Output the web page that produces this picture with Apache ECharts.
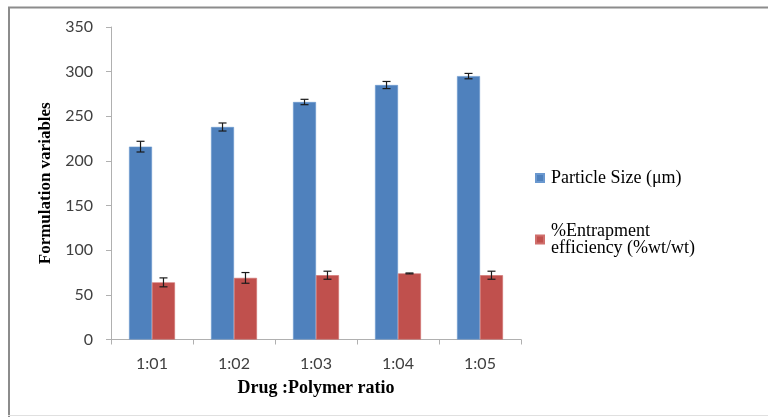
<!DOCTYPE html>
<html>
<head>
<meta charset="utf-8">
<script src="https://cdn.jsdelivr.net/npm/echarts@6/dist/echarts.min.js"></script>
<style>
html,body{margin:0;padding:0;background:#fff;}
#chart{width:768px;height:417px;}
</style>
</head>
<body>
<div id="chart"></div>
<script>
const categories = ['1:01', '1:02', '1:03', '1:04', '1:05'];
const particleSize = [216, 238, 266, 285, 295];
const particleSizeErr = [6, 4.5, 3, 4, 3];
const entrapment = [64, 69, 72, 74, 72];
const entrapmentErr = [5, 6, 4.5, 0.5, 4.5];
const yTicks = { min: 0, max: 350, interval: 50 };

const seriesNames = ['Particle Size (μm)', '%Entrapment efficiency (%wt/wt)'];
const colors = ['#4F81BD', '#C0504D'];
const catGap = 0.44;

function errSeries(vals, errs, idx) {
  return {
    type: 'custom',
    name: 'err' + idx,
    z: 10,
    silent: true,
    data: vals.map((v, i) => [i, v, errs[i]]),
    renderItem: function (params, api) {
      const i = api.value(0), v = api.value(1), e = api.value(2);
      const band = api.size([1, 0])[0];
      const barW = band * (1 - catGap) / 2;
      const off = idx === 0 ? -barW / 2 : barW / 2;
      const top = api.coord([i, v + e]);
      const bot = api.coord([i, v - e]);
      const x = top[0] + off;
      const cap = 4;
      const st = { stroke: '#1a1a1a', lineWidth: 1.2 };
      return {
        type: 'group',
        children: [
          { type: 'line', shape: { x1: x, y1: top[1], x2: x, y2: bot[1] }, style: st },
          { type: 'line', shape: { x1: x - cap, y1: top[1], x2: x + cap, y2: top[1] }, style: st },
          { type: 'line', shape: { x1: x - cap, y1: bot[1], x2: x + cap, y2: bot[1] }, style: st }
        ]
      };
    }
  };
}

const chart = echarts.init(document.getElementById('chart'), null, { renderer: 'canvas' });
chart.setOption({
  animation: false,
  backgroundColor: '#fff',
  grid: { left: 111, right: 247, top: 27, bottom: 77.5, containLabel: false },
  legend: {
    data: seriesNames,
    orient: 'vertical',
    left: 530,
    top: 164,
    itemWidth: 8,
    itemHeight: 8,
    itemGap: 35,
    icon: 'rect',
    formatter: function (n) { return n === seriesNames[1] ? '%Entrapment\nefficiency (%wt/wt)' : n; },
    textStyle: { fontFamily: 'Liberation Serif', fontSize: 18, color: '#000', lineHeight: 17, padding: [0, 0, 0, 2] }
  },
  xAxis: {
    type: 'category',
    data: categories,
    name: 'Drug :Polymer ratio',
    nameLocation: 'middle',
    nameGap: 40,
    nameTextStyle: { fontFamily: 'Liberation Serif', fontWeight: 'bold', fontSize: 18, color: '#000' },
    axisLine: { lineStyle: { color: '#b0b0b0', width: 1 } },
    axisTick: { show: true, alignWithLabel: false, length: 5, lineStyle: { color: '#b0b0b0' } },
    axisLabel: { fontFamily: 'Lato', fontSize: 16, color: '#404040', margin: 16 }
  },
  yAxis: {
    type: 'value',
    min: yTicks.min,
    max: yTicks.max,
    interval: yTicks.interval,
    name: 'Formulation variables',
    nameLocation: 'middle',
    nameGap: 57,
    nameRotate: 90,
    nameTextStyle: { fontFamily: 'Liberation Serif', fontWeight: 'bold', fontSize: 17, color: '#000' },
    axisLine: { show: true, lineStyle: { color: '#b0b0b0', width: 1 } },
    axisTick: { show: true, length: 5, lineStyle: { color: '#b0b0b0' } },
    splitLine: { show: false },
    axisLabel: { fontFamily: 'Lato', fontSize: 16, color: '#404040', margin: 18 }
  },
  series: [
    {
      name: seriesNames[0], type: 'bar', data: particleSize,
      barGap: '0%', barCategoryGap: (catGap * 100) + '%',
      itemStyle: { color: colors[0], borderColor: '#6a98cf', borderWidth: 0.6 }
    },
    {
      name: seriesNames[1], type: 'bar', data: entrapment,
      barGap: '0%', barCategoryGap: (catGap * 100) + '%',
      itemStyle: { color: colors[1], borderColor: '#d06f6c', borderWidth: 0.6 }
    },
    errSeries(particleSize, particleSizeErr, 0),
    errSeries(entrapment, entrapmentErr, 1)
  ],
  graphic: [
    { type: 'line', silent: true, shape: { x1: 8, y1: 7.5, x2: 768, y2: 7.5 }, style: { stroke: '#8c8c8c', lineWidth: 2 } },
    { type: 'line', silent: true, shape: { x1: 9, y1: 7, x2: 9, y2: 417 }, style: { stroke: '#8c8c8c', lineWidth: 2 } },
    { type: 'line', silent: true, shape: { x1: 8, y1: 415.5, x2: 768, y2: 415.5 }, style: { stroke: '#e0e0e0', lineWidth: 1 } }
  ]
});
</script>
</body>
</html>
